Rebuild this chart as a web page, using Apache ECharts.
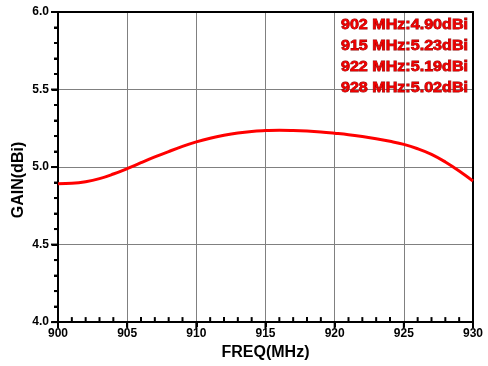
<!DOCTYPE html>
<html><head><meta charset="utf-8">
<script src="https://cdn.jsdelivr.net/npm/echarts@6/dist/echarts.min.js"></script>
<style>html,body{margin:0;padding:0;background:#fff}#c{width:488px;height:366px}</style>
</head><body><div id="c"></div>
<script>
const freqs = [900,901,902,903,904,905,906,907,908,909,910,911,912,913,914,915,916,917,918,919,920,921,922,923,924,925,926,927,928,929,930];
const gain = [4.893,4.895,4.905,4.925,4.955,4.99,5.028,5.065,5.10,5.133,5.162,5.186,5.205,5.22,5.23,5.235,5.238,5.236,5.232,5.226,5.218,5.209,5.197,5.183,5.166,5.146,5.118,5.082,5.033,4.975,4.91];
const xTicks = {min: 900, max: 930, step: 5, minor: 1};
const yTicks = {min: 4.0, max: 6.0, step: 0.5, minor: 0.1};
const notes = ['902 MHz:4.90dBi','915 MHz:5.23dBi','922 MHz:5.19dBi','928 MHz:5.02dBi'];
const xName = 'FREQ(MHz)';
const yName = 'GAIN(dBi)';

const xTickVals = [];
for (let i = 0; i <= Math.round((xTicks.max - xTicks.min) / xTicks.minor); i++) xTickVals.push(xTicks.min + i * xTicks.minor);
const yTickVals = [];
for (let i = 0; i <= Math.round((yTicks.max - yTicks.min) / yTicks.minor); i++) yTickVals.push(+(yTicks.min + i * yTicks.minor).toFixed(2));

const chart = echarts.init(document.getElementById('c'), null, {renderer:'canvas'});
const lblFont = {color:'#000', fontWeight:'bold', fontSize:12, fontFamily:'Liberation Sans'};
const edge = {type:'value', axisLabel:{show:false}, splitLine:{show:false}, axisTick:{show:false},
  axisLine:{show:true, onZero:false, lineStyle:{color:'#000', width:2}}};
const textGraphics = notes.map((t,i)=>({
    type:'text', x:468, y:25+i*21.2, z:100, scaleX:1.15,
    style:{text:t, fill:'#ee0000', stroke:'#900000', lineWidth:0.8, font:'bold 14px Liberation Sans', align:'right', verticalAlign:'middle'}
  })).concat([{
    type:'text', x:19, y:180, rotation:Math.PI/2, z:100,
    style:{text:yName, fill:'#000', font:'bold 16px Liberation Sans', align:'center', verticalAlign:'middle'}
  }]);
chart.setOption({
  animation:false,
  grid:{left:58, right:15, top:12, bottom:43},
  xAxis:[{
    type:'value', min:xTicks.min, max:xTicks.max, interval:xTicks.step,
    name:xName, nameLocation:'middle', nameGap:17,
    nameTextStyle:{color:'#000', fontWeight:'bold', fontSize:16, fontFamily:'Liberation Sans'},
    axisLine:{show:true, onZero:false, lineStyle:{color:'#000', width:2}},
    axisTick:{show:true, inside:false, length:5, lineStyle:{color:'#000', width:2}},
    axisLabel:Object.assign({margin:6}, lblFont),
    splitLine:{show:true, lineStyle:{color:'#808080', width:1}}
  }, Object.assign({position:'top', min:xTicks.min, max:xTicks.max}, edge)],
  yAxis:[{
    type:'value', min:yTicks.min, max:yTicks.max, interval:yTicks.step,
    axisLine:{show:true, onZero:false, lineStyle:{color:'#000', width:2}},
    axisTick:{show:true, inside:false, length:6, lineStyle:{color:'#000', width:2}},
    minorTick:{show:true, splitNumber:5, length:4, lineStyle:{color:'#000', width:2}},
    axisLabel:Object.assign({margin:9, formatter:v=>v.toFixed(1)}, lblFont),
    splitLine:{show:true, lineStyle:{color:'#808080', width:1}}
  }, Object.assign({position:'right', min:yTicks.min, max:yTicks.max}, edge)],
  series:[{
    type:'line', smooth:0.4, showSymbol:false, symbol:'none', z:3,
    data:freqs.map((f,i)=>[f,gain[i]]),
    lineStyle:{color:'#ff0000', width:3}
  }],
  graphic: textGraphics
});

// tick marks as small filled rects, placed through the chart's own axis scales
function toPx(x, y) {
  let p = chart.convertToPixel({gridIndex:0}, [x, y]);
  if (!p || !isFinite(p[0]) || !isFinite(p[1])) p = chart.convertToPixel({seriesIndex:0}, [x, y]);
  return p;
}
const tickGraphics = [];
xTickVals.forEach((v,i) => {
  const p = toPx(v, yTicks.min);
  if (!p) return;
  const major = i % 5 === 0;
  tickGraphics.push({type:'rect', z:200, silent:true,
    shape: major ? {x:p[0]-1, y:p[1], width:2, height:6} : {x:p[0]-1, y:p[1]-5, width:2, height:5},
    style:{fill:'#000'}});
});
yTickVals.forEach((v,i) => {
  const p = toPx(xTicks.min, v);
  if (!p) return;
  const major = i % 5 === 0;
  const len = major ? 7 : 4;
  tickGraphics.push({type:'rect', z:200, silent:true,
    shape:{x:p[0]-len, y:p[1]-1, width:len, height:2}, style:{fill:'#000'}});
});
chart.setOption({graphic: textGraphics.concat(tickGraphics)});
</script></body></html>
